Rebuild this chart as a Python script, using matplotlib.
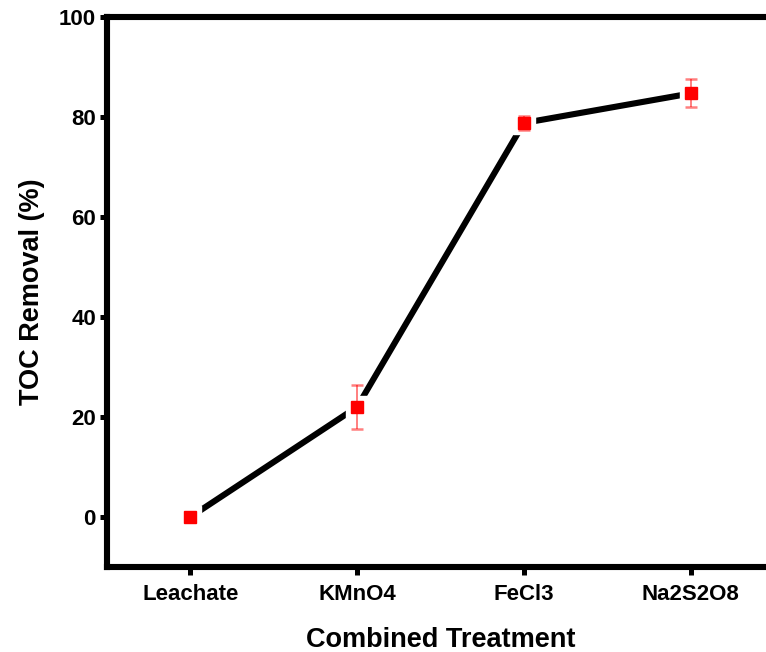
import matplotlib
matplotlib.use("Agg")
import matplotlib.pyplot as plt
from matplotlib.ticker import MultipleLocator
import numpy as np

# TOC removal after each combined treatment step
treatments = ["Leachate", "KMnO4", "FeCl3", "Na2S2O8"]
toc_removal = [0.0, 22.0, 78.8, 84.7]
toc_error = [0.0, 4.4, 1.4, 2.8]

plt.rcParams["font.family"] = ["Liberation Sans", "DejaVu Sans"]
plt.rcParams["font.weight"] = "bold"

fig = plt.figure(figsize=(7.66, 6.52), dpi=100)
ax = fig.add_axes([0.1397, 0.1304, 0.8707, 0.8436])

x = np.arange(1, len(treatments) + 1)

# connecting line, with a white halo under each marker to open a gap
ax.plot(x, toc_removal, color="black", lw=4.4, solid_capstyle="butt", zorder=1)
ax.plot(x, toc_removal, ls="none", marker="s", ms=16.5, color="white",
        mec="white", zorder=2)

# error bars: pale stem, red caps
eb = ax.errorbar(x, toc_removal, yerr=toc_error, fmt="none",
                 ecolor=(1, 0, 0, 0.5), elinewidth=1.4, capsize=4,
                 capthick=1.8, zorder=3)
for cap in eb[1]:
    cap.set_color("red")

ax.plot(x, toc_removal, ls="none", marker="s", ms=8.6, color="red",
        mec="red", zorder=4)

ax.set_xlim(0.5, 4.5)
ax.set_ylim(-10, 100)
ax.set_xticks(x)
ax.set_xticklabels(treatments)
ax.yaxis.set_major_locator(MultipleLocator(20))
ax.yaxis.set_minor_locator(MultipleLocator(10))

for side in ["left", "top", "bottom"]:
    ax.spines[side].set_linewidth(4.4)
ax.spines["right"].set_visible(False)

ax.tick_params(axis="y", which="major", direction="out", length=5,
               width=3.6, labelsize=16, pad=3)
ax.tick_params(axis="x", which="major", direction="out", length=6,
               width=3.6, labelsize=16, pad=6)
ax.tick_params(axis="y", which="minor", direction="out", length=2.5, width=3.0)
ax.tick_params(axis="x", which="minor", bottom=False)
for lbl in ax.get_xticklabels() + ax.get_yticklabels():
    lbl.set_fontweight("bold")

ax.set_xlabel("Combined Treatment", fontsize=19.5, fontweight="bold", labelpad=16)
ax.set_ylabel("TOC Removal (%)", fontsize=19.5, fontweight="bold", labelpad=10)

fig.savefig("out.png", dpi=100)
